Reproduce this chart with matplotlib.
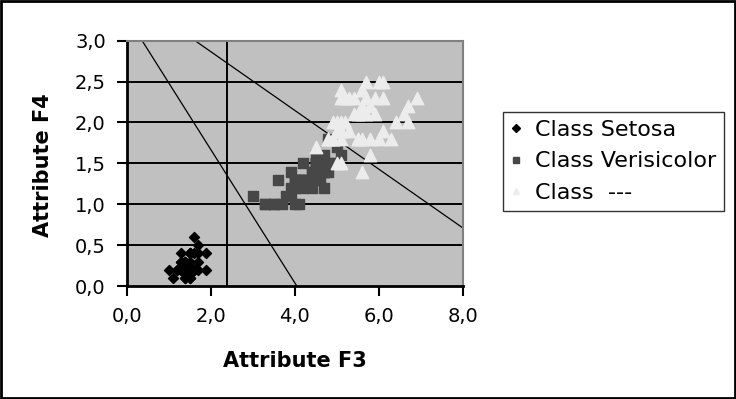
import matplotlib
matplotlib.use("Agg")
import matplotlib.pyplot as plt
from matplotlib.patches import Rectangle
from matplotlib.lines import Line2D

# petal length (F3) / petal width (F4)
setosa_f3 = [1.4, 1.4, 1.3, 1.5, 1.4, 1.7, 1.4, 1.5, 1.4, 1.5, 1.5, 1.6, 1.4, 1.1, 1.2,
             1.5, 1.3, 1.4, 1.7, 1.5, 1.7, 1.5, 1.0, 1.7, 1.9, 1.6, 1.6, 1.5, 1.4, 1.6,
             1.6, 1.5, 1.5, 1.4, 1.5, 1.2, 1.3, 1.4, 1.3, 1.5, 1.3, 1.3, 1.3, 1.6, 1.9,
             1.4, 1.6, 1.4, 1.5, 1.4]
setosa_f4 = [0.2, 0.2, 0.2, 0.2, 0.2, 0.4, 0.3, 0.2, 0.2, 0.1, 0.2, 0.2, 0.1, 0.1, 0.2,
             0.4, 0.4, 0.3, 0.3, 0.3, 0.2, 0.4, 0.2, 0.5, 0.2, 0.2, 0.4, 0.2, 0.2, 0.2,
             0.2, 0.4, 0.1, 0.2, 0.2, 0.2, 0.2, 0.1, 0.2, 0.2, 0.3, 0.3, 0.2, 0.6, 0.4,
             0.3, 0.2, 0.2, 0.2, 0.2]

versi_f3 = [4.7, 4.5, 4.9, 4.0, 4.6, 4.5, 4.7, 3.3, 4.6, 3.9, 3.5, 4.2, 4.0, 4.7, 3.6,
            4.4, 4.5, 4.1, 4.5, 3.9, 4.8, 4.0, 4.9, 4.7, 4.3, 4.4, 4.8, 5.0, 4.5, 3.5,
            3.8, 3.7, 3.9, 5.1, 4.5, 4.5, 4.7, 4.4, 4.1, 4.0, 4.4, 4.6, 4.0, 3.3, 4.2,
            4.2, 4.2, 4.3, 3.0, 4.1]
versi_f4 = [1.4, 1.5, 1.5, 1.3, 1.5, 1.3, 1.6, 1.0, 1.3, 1.4, 1.0, 1.5, 1.0, 1.4, 1.3,
            1.4, 1.5, 1.0, 1.5, 1.1, 1.8, 1.3, 1.5, 1.2, 1.3, 1.4, 1.4, 1.7, 1.5, 1.0,
            1.1, 1.0, 1.2, 1.6, 1.5, 1.6, 1.5, 1.3, 1.3, 1.3, 1.2, 1.4, 1.2, 1.0, 1.3,
            1.2, 1.3, 1.3, 1.1, 1.3]

third_f3 = [6.0, 5.1, 5.9, 5.6, 5.8, 6.6, 4.5, 6.3, 5.8, 6.1, 5.1, 5.3, 5.5, 5.0, 5.1,
            5.3, 5.5, 6.7, 6.9, 5.0, 5.7, 4.9, 6.7, 4.9, 5.7, 6.0, 4.8, 4.9, 5.6, 5.8,
            6.1, 6.4, 5.6, 5.1, 5.6, 6.1, 5.6, 5.5, 4.8, 5.4, 5.6, 5.1, 5.1, 5.9, 5.7,
            5.2, 5.0, 5.2, 5.4, 5.1]
third_f4 = [2.5, 1.9, 2.1, 1.8, 2.2, 2.1, 1.7, 1.8, 1.8, 2.5, 2.0, 1.9, 2.1, 2.0, 2.4,
            2.3, 1.8, 2.2, 2.3, 1.5, 2.3, 2.0, 2.0, 1.8, 2.1, 1.8, 1.8, 1.8, 2.1, 1.6,
            1.9, 2.0, 2.2, 1.5, 1.4, 2.3, 2.4, 1.8, 1.8, 2.1, 2.4, 2.3, 1.9, 2.3, 2.5,
            2.3, 1.9, 2.0, 2.3, 1.8]

# separating lines
line1_x = [0.37, 4.05]
line1_y = [3.0, 0.0]
line2_x = [1.63, 8.0]
line2_y = [3.0, 0.71]
vline_x = 2.4

x_ticks = [0, 2, 4, 6, 8]
y_ticks = [0.0, 0.5, 1.0, 1.5, 2.0, 2.5, 3.0]

fig = plt.figure(figsize=(7.36, 3.99), dpi=100)
ax = fig.add_axes([0.172, 0.283, 0.457, 0.615])
ax.set_facecolor("#c0c0c0")

for yv in y_ticks[1:-1]:
    ax.axhline(yv, color="black", lw=1.4, zorder=1)
ax.axvline(vline_x, color="black", lw=1.4, zorder=1)

ax.plot(line1_x, line1_y, color="black", lw=0.9, zorder=2)
ax.plot(line2_x, line2_y, color="black", lw=0.9, zorder=2)

ax.scatter(setosa_f3, setosa_f4, marker="D", s=26, color="black", zorder=3)
ax.scatter(versi_f3, versi_f4, marker="s", s=58, color="#474747", zorder=4)
ax.scatter(third_f3, third_f4, marker="^", s=80, color="#ececec", zorder=5)

ax.set_xlim(0, 8)
ax.set_ylim(0, 3)
ax.set_xticks(x_ticks)
ax.set_xticklabels([f"{v:.1f}".replace(".", ",") for v in x_ticks])
ax.set_yticks(y_ticks)
ax.set_yticklabels([f"{v:.1f}".replace(".", ",") for v in y_ticks])
ax.tick_params(axis="both", direction="out", length=7, width=1.5,
               labelsize=14, pad=8, colors="black")

for side in ["top", "right"]:
    ax.spines[side].set_color("#808080")
    ax.spines[side].set_linewidth(1.5)
for side in ["left", "bottom"]:
    ax.spines[side].set_color("black")
    ax.spines[side].set_linewidth(2)

fig.text(0.401, 0.096, "Attribute F3", ha="center", va="center",
         fontsize=15, fontweight="bold")
fig.text(0.058, 0.587, "Attribute F4", ha="center", va="center",
         fontsize=15, fontweight="bold", rotation=90)

handles = [
    Line2D([], [], marker="D", ls="", color="black", markersize=4),
    Line2D([], [], marker="s", ls="", color="#474747", markersize=5),
    Line2D([], [], marker="^", ls="", color="#ececec", markersize=5),
]
leg = fig.legend(handles, ["Class Setosa", "Class Verisicolor", "Class  ---"],
                 loc="upper left", bbox_to_anchor=(0.683, 0.719),
                 frameon=True, fancybox=False, fontsize=16,
                 handlelength=0.5, handletextpad=0.6, borderaxespad=0,
                 labelspacing=0.52, borderpad=0.35)
leg.get_frame().set_edgecolor("black")
leg.get_frame().set_linewidth(1)

fig.patches.append(Rectangle((0.002, 0.003), 0.996, 0.994, transform=fig.transFigure,
                             fill=False, edgecolor="black", lw=2))

fig.savefig("out.png", dpi=100, facecolor="white")
